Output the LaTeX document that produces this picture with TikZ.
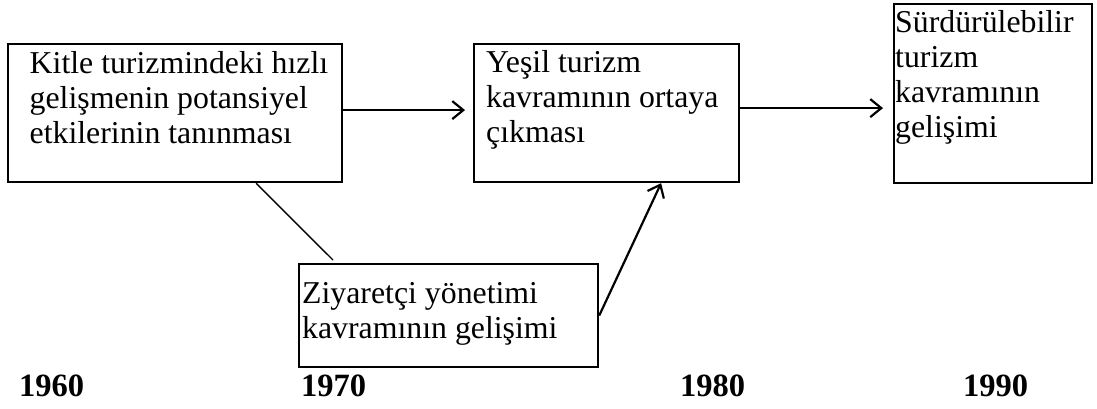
\documentclass[tikz,border=0pt]{standalone}
\usepackage{fontspec}
\setmainfont{Liberation Serif}
\usetikzlibrary{arrows.meta,positioning}
\tikzstyle{box} = [draw, line width=2.2pt, inner sep=0pt, anchor=north west]
\tikzstyle{boxtext} = [anchor=base west, inner sep=0pt, align=left, font=\fontsize{31.8}{35}\selectfont]
\tikzstyle{year} = [anchor=base west, inner sep=0pt, font=\fontsize{32.5}{38}\selectfont\bfseries]
\tikzstyle{arrow} = [line width=2.2pt, -{Straight Barb[length=11pt,width=18pt]}]

\begin{document}
\begin{tikzpicture}[x=1pt, y=-1pt]
\useasboundingbox (0,0) rectangle (1097,408);

% Boxes
\node[box, minimum width=334pt, minimum height=138pt] (kitle) at (7,43) {};
\node[box, minimum width=265pt, minimum height=138pt] (yesil) at (473,43) {};
\node[box, minimum width=198pt, minimum height=179pt] (surdur) at (893,3) {};
\node[box, minimum width=299pt, minimum height=103pt] (ziyaret) at (298,263) {};

% Texts (placed at the baseline of the last line)
\node[boxtext] (kitleT) at (29.5,143) {Kitle turizmindeki hızlı\\gelişmenin potansiyel\\etkilerinin tanınması};
\node[boxtext] (yesilT) at (486,142) {Yeşil turizm\\kavramının ortaya\\çıkması};
\node[boxtext] (surdurT) at (895,137) {Sürdürülebilir\\turizm\\kavramının\\gelişimi};
\node[boxtext] (ziyaretT) at (302,338) {Ziyaretçi yönetimi\\kavramının gelişimi};

% Connectors
\coordinate (ucu) at (333,260);
\draw[arrow, shorten >=8pt] ([yshift=3pt]kitle.east) -- ([yshift=3pt]yesil.west);
\draw[arrow, shorten >=10pt] ([yshift=5pt]yesil.east) -- ([yshift=5pt]yesil.east -| surdur.west);
\draw[line width=1.4pt] ([xshift=81pt]kitle.south) -- (ucu);
\draw[arrow] (ziyaret.east) -- ([xshift=54.5pt]yesil.south);

% Years
\node[year] (y1960) at (19,396) {1960};
\node[year] (y1970) at (301,396) {1970};
\node[year] (y1980) at (680,396) {1980};
\node[year] (y1990) at (963,396) {1990};
\end{tikzpicture}
\end{document}
